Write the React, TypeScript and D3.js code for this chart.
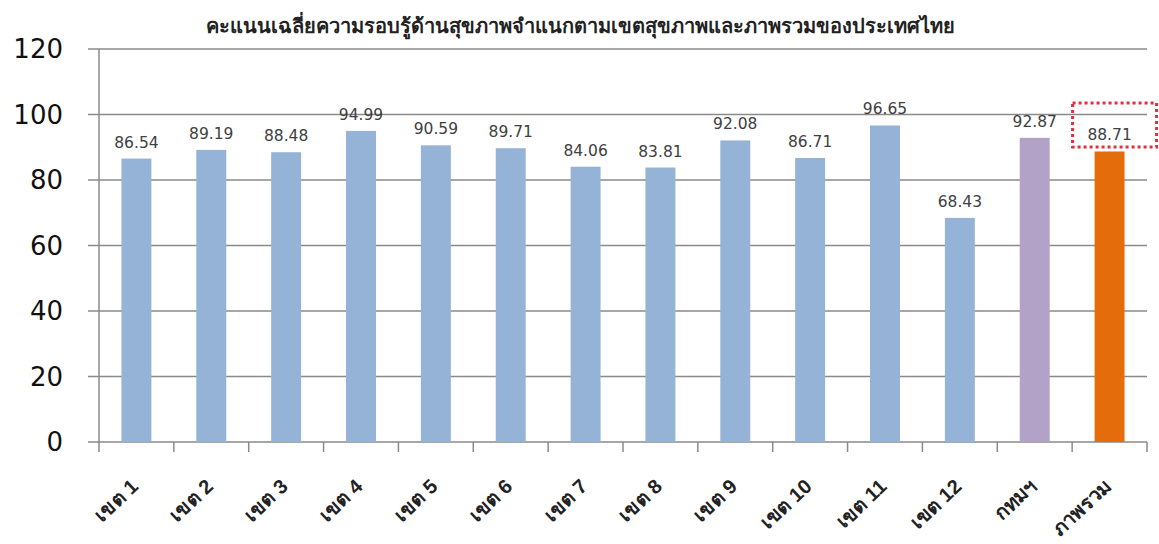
import React from "react";
import * as d3 from "d3";

const categories = ["เขต 1","เขต 2","เขต 3","เขต 4","เขต 5","เขต 6","เขต 7","เขต 8","เขต 9","เขต 10","เขต 11","เขต 12","กทมฯ","ภาพรวม"];
const values = [86.54, 89.19, 88.48, 94.99, 90.59, 89.71, 84.06, 83.81, 92.08, 86.71, 96.65, 68.43, 92.87, 88.71];
const barColors = ["#95B3D7","#95B3D7","#95B3D7","#95B3D7","#95B3D7","#95B3D7","#95B3D7","#95B3D7","#95B3D7","#95B3D7","#95B3D7","#95B3D7","#B3A2C7","#E46C0A"];
const yTicks = [0, 20, 40, 60, 80, 100, 120];
const title = "คะแนนเฉลี่ยความรอบรู้ด้านสุขภาพจำแนกตามเขตสุขภาพและภาพรวมของประเทศไทย";

export default function App() {
  const W = 1159, H = 544;
  const left = 99, right = 1147, top = 49, bottom = 442;
  const x = d3.scaleBand<string>().domain(categories).range([left, right]).paddingInner(0.6).paddingOuter(0.3);
  const xb = d3.scaleBand<string>().domain(categories).range([left, right]);
  const y = d3.scaleLinear().domain([0, 120]).range([bottom, top]);
  const font = "'DejaVu Sans', 'Liberation Sans', sans-serif";
  const last = categories[categories.length - 1];
  return (
    <svg width={W} height={H} style={{ position: "absolute", left: 0, top: 0, background: "#fff" }}>
      <text x={580} y={33} textAnchor="middle" fontSize={20} fontWeight="bold" fontFamily="'Liberation Sans', sans-serif" fill="#222">{title}</text>
      {yTicks.map((t) => (
        <g key={t}>
          <line x1={88} x2={right} y1={y(t)} y2={y(t)} stroke="#8a8a8a" strokeWidth={1.5} />
          <text x={63} y={y(t)} dy="0.36em" textAnchor="end" fontSize={26} fontFamily={font} fill="#111">{t}</text>
        </g>
      ))}
      <line x1={left} x2={left} y1={top} y2={bottom + 10} stroke="#8a8a8a" strokeWidth={1.5} />
      {categories.map((c) => (
        <line key={"t" + c} x1={(xb(c) as number) + xb.bandwidth()} x2={(xb(c) as number) + xb.bandwidth()} y1={bottom} y2={bottom + 10} stroke="#8a8a8a" strokeWidth={1.5} />
      ))}
      {categories.map((c, i) => (
        <rect key={"b" + c} x={x(c)} y={y(values[i])} width={x.bandwidth()} height={bottom - y(values[i])} fill={barColors[i]} />
      ))}
      {categories.map((c, i) => (
        <text key={"v" + c} x={(x(c) as number) + x.bandwidth() / 2} y={y(values[i]) - 11} textAnchor="middle" fontSize={15.5} fontFamily={font} fill="#404040">{values[i].toFixed(2)}</text>
      ))}
      {categories.map((c) => {
        const cx = (x(c) as number) + x.bandwidth() / 2 + 3;
        const cy = 488;
        return (
          <text key={"l" + c} transform={`translate(${cx},${cy}) rotate(-43)`} textAnchor="end" fontSize={20} fontWeight="bold" fontFamily="'Liberation Sans', sans-serif" fill="#222">{c}</text>
        );
      })}
      <rect x={(x(last) as number) + x.bandwidth() / 2 - 37} y={103} width={84} height={44} fill="none" stroke="#E0303A" strokeWidth={3} strokeDasharray="3 3" />
    </svg>
  );
}
